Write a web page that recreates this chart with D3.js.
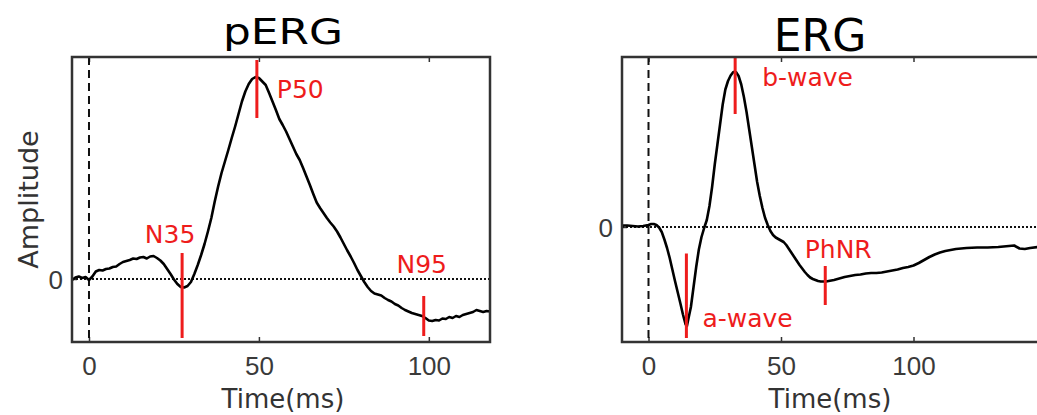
<!DOCTYPE html>
<html>
<head>
<meta charset="utf-8">
<script src="https://cdn.jsdelivr.net/npm/d3@7"></script>
<style>
  body { margin: 0; background: #fff; }
  svg { display: block; overflow: hidden; font-family: "DejaVu Sans", sans-serif; }
  .tick text { fill: #3a3a3a; font-size: 26px; }
  .tick line { stroke: #333; stroke-width: 1.5; }
</style>
</head>
<body>
<div id="chart"></div>
<script>
// pERG trace: [time ms, amplitude]
let pergTrace = [
  [-5, -0.02], [-4, 0.03], [-3, 0.05], [-2, 0.02], [-1, 0.04], [0, -0.02], [1, 0.05], [2, 0.15],
  [3, 0.18], [4, 0.17], [5, 0.2], [6, 0.21], [7, 0.24], [8, 0.25], [9, 0.3], [10, 0.34],
  [11, 0.36], [12, 0.38], [13, 0.41], [14, 0.40], [15, 0.43], [16, 0.44], [17, 0.41], [18, 0.45],
  [19, 0.46], [20, 0.42], [21, 0.37], [22, 0.30], [23, 0.2], [24, 0.1], [25, -0.01], [26, -0.1],
  [27, -0.16], [28, -0.17], [29, -0.14], [30, -0.06], [31, 0.1], [32, 0.28], [33, 0.48], [34, 0.7],
  [35, 0.95], [36, 1.22], [37, 1.55], [38, 1.85], [39, 2.12], [40, 2.35], [41, 2.58], [42, 2.82],
  [43, 3.05], [44, 3.3], [45, 3.55], [46, 3.75], [47, 3.9], [48, 4.0], [49, 4.04], [50, 4.02],
  [51, 3.95], [52, 3.88], [53, 3.72], [54, 3.55], [55, 3.38], [56, 3.2], [57, 3.08], [58, 2.95],
  [59, 2.8], [60, 2.65], [61, 2.5], [62, 2.38], [63, 2.22], [64, 2.05], [65, 1.88], [66, 1.7],
  [67, 1.53], [68, 1.42], [69, 1.32], [70, 1.22], [71, 1.13], [72, 1.05], [73, 0.95], [74, 0.83],
  [75, 0.7], [76, 0.57], [77, 0.45], [78, 0.32], [79, 0.18], [80, 0.06], [81, -0.06], [82, -0.16],
  [83, -0.24], [84, -0.29], [85, -0.31], [86, -0.33], [87, -0.38], [88, -0.42], [89, -0.45], [90, -0.5],
  [91, -0.53], [92, -0.58], [93, -0.62], [94, -0.65], [95, -0.68], [96, -0.7], [97, -0.72], [98, -0.74],
  [99, -0.78], [100, -0.83], [101, -0.84], [102, -0.82], [103, -0.83], [104, -0.79], [105, -0.8], [106, -0.76],
  [107, -0.78], [108, -0.74], [109, -0.76], [110, -0.72], [111, -0.7], [112, -0.68], [113, -0.66], [114, -0.62],
  [115, -0.64], [116, -0.66], [117, -0.64], [118, -0.65]
];

// ERG trace: [time ms, amplitude]
let ergTrace = [
  [-10, 0.03], [-8, 0.03], [-6, 0.02], [-4, 0.01], [-2, 0.02], [0, 0.04], [1, 0.06], [2, 0.06],
  [3, 0.04], [4, -0.01], [5, -0.1], [6, -0.25], [7, -0.42], [8, -0.62], [9, -0.85], [10, -1.08],
  [11, -1.3], [12, -1.52], [13, -1.75], [14, -1.95], [14.5, -1.98], [15, -1.85], [16, -1.6], [17, -1.2],
  [18, -0.8], [19, -0.45], [20, -0.2], [21, -0.02], [22, 0.14], [23, 0.42], [24, 0.8], [25, 1.25],
  [26, 1.65], [27, 2.05], [28, 2.45], [29, 2.75], [30, 2.92], [31, 3.03], [32, 3.1], [33, 3.1],
  [34, 3.02], [35, 2.85], [36, 2.6], [37, 2.3], [38, 1.95], [39, 1.6], [40, 1.25], [41, 0.9],
  [42, 0.62], [43, 0.38], [44, 0.18], [45, 0.04], [46, -0.08], [47, -0.16], [48, -0.21], [49, -0.24],
  [50, -0.27], [51, -0.3], [52, -0.36], [53, -0.44], [54, -0.52], [55, -0.6], [56, -0.68], [57, -0.76],
  [58, -0.83], [59, -0.9], [60, -0.96], [61, -1.01], [62, -1.04], [63, -1.06], [64, -1.08], [65, -1.09],
  [66, -1.09], [67, -1.09], [68, -1.08], [70, -1.06], [72, -1.03], [74, -1.0], [76, -0.98], [78, -0.96],
  [80, -0.95], [82, -0.93], [84, -0.92], [86, -0.92], [88, -0.91], [90, -0.89], [92, -0.87], [94, -0.85],
  [96, -0.82], [98, -0.8], [100, -0.77], [102, -0.72], [104, -0.66], [106, -0.6], [108, -0.55], [110, -0.51],
  [112, -0.48], [114, -0.46], [116, -0.44], [118, -0.43], [120, -0.42], [124, -0.41], [128, -0.41], [132, -0.4],
  [136, -0.38], [138, -0.37], [140, -0.43], [142, -0.44], [144, -0.42], [147, -0.4], [150, -0.4]
];

// peak markers: label, time, marker from / to amplitude
let pergMarkers = [
  { label: "N35", t: 27.4, from: -1.18, to: 0.52 },
  { label: "P50", t: 49.4, from: 3.22, to: 4.38 },
  { label: "N95", t: 98.5, from: -1.14, to: -0.34 }
];
let ergMarkers = [
  { label: "a-wave", t: 14.3, from: -2.22, to: -0.53 },
  { label: "b-wave", t: 32.7, from: 2.26, to: 3.4 },
  { label: "PhNR", t: 66.7, from: -1.56, to: -0.78 }
];

let xTicks = [0, 50, 100];
let yTicks = [0];

// label placement relative to marker line (px)
let labelPlace = {
  "N35":    { anchor: "middle", dx: -12, end: "top", dy: -10 },
  "P50":    { anchor: "start",  dx: 20,  end: "top", dy: 38 },
  "N95":    { anchor: "middle", dx: -2,  end: "top", dy: -23 },
  "a-wave": { anchor: "start",  dx: 16,  end: "bottom", dy: -11 },
  "b-wave": { anchor: "start",  dx: 27,  end: "top", dy: 29 },
  "PhNR":   { anchor: "middle", dx: 13,  end: "top", dy: -8 }
};

let width = 1037, height = 415;
let svg = d3.select("#chart").append("svg")
  .attr("width", width)
  .attr("height", height);

function drawPanel(opt) {
  let x = d3.scaleLinear().domain(opt.xDomain).range([opt.left, opt.right]);
  let y = d3.scaleLinear().domain(opt.yDomain).range([342, 57]);
  let g = svg.append("g");

  let clipId = "clip-" + opt.name;
  svg.append("clipPath").attr("id", clipId)
    .append("rect")
    .attr("x", opt.left).attr("y", 57)
    .attr("width", opt.right - opt.left).attr("height", 342 - 57);

  // axes with inward ticks
  g.append("g")
    .attr("transform", "translate(0,342)")
    .call(d3.axisBottom(x).tickValues(xTicks).tickSizeInner(-5).tickSizeOuter(0).tickPadding(15))
    .call(a => a.select(".domain").remove());
  g.append("g")
    .attr("transform", "translate(0,57)")
    .call(d3.axisTop(x).tickValues(xTicks).tickSizeInner(-5).tickSizeOuter(0).tickFormat(""))
    .call(a => a.select(".domain").remove());
  g.append("g")
    .attr("transform", "translate(" + opt.left + ",0)")
    .call(d3.axisLeft(y).tickValues(yTicks).tickFormat(d3.format("d")).tickSizeInner(-5).tickSizeOuter(0).tickPadding(9))
    .call(a => a.select(".domain").remove())
    .selectAll("text").attr("dy", "0.38em");

  let plot = g.append("g").attr("clip-path", "url(#" + clipId + ")");

  // zero line (dotted) and stimulus onset (dashed)
  plot.append("line")
    .attr("x1", opt.left).attr("x2", opt.right)
    .attr("y1", y(0)).attr("y2", y(0))
    .attr("stroke", "#111").attr("stroke-width", 2)
    .attr("stroke-dasharray", "2,2");
  plot.append("line")
    .attr("x1", x(0)).attr("x2", x(0))
    .attr("y1", 57).attr("y2", 342)
    .attr("stroke", "#111").attr("stroke-width", 2)
    .attr("stroke-dasharray", "8,5");

  let line = d3.line().x(d => x(d[0])).y(d => y(d[1]));
  plot.append("path")
    .datum(opt.trace)
    .attr("d", line)
    .attr("fill", "none")
    .attr("stroke", "#000")
    .attr("stroke-width", 2.6)
    .attr("stroke-linejoin", "round");

  // red markers + labels
  let m = g.selectAll(".marker").data(opt.markers).enter().append("g");
  m.append("line")
    .attr("x1", d => x(d.t)).attr("x2", d => x(d.t))
    .attr("y1", d => y(d.from)).attr("y2", d => y(d.to))
    .attr("stroke", "#ee1c1c").attr("stroke-width", 3);
  m.append("text")
    .attr("x", d => x(d.t) + labelPlace[d.label].dx)
    .attr("y", d => (labelPlace[d.label].end === "top" ? y(d.to) : y(d.from)) + labelPlace[d.label].dy)
    .attr("text-anchor", d => labelPlace[d.label].anchor)
    .attr("fill", "#ee1c1c")
    .attr("font-size", 25)
    .text(d => d.label);

  // box
  g.append("rect")
    .attr("x", opt.left).attr("y", 57)
    .attr("width", opt.right - opt.left).attr("height", 342 - 57)
    .attr("fill", "none")
    .attr("stroke", "#333").attr("stroke-width", 2.5);

  // x label
  g.append("text")
    .attr("x", opt.xLabelX).attr("y", 408)
    .attr("text-anchor", "middle")
    .attr("fill", "#333")
    .attr("font-size", 26)
    .text("Time(ms)");

  return { x: x, y: y };
}

drawPanel({
  name: "perg", trace: pergTrace, markers: pergMarkers,
  xDomain: [-5, 118], yDomain: [-1.26, 4.44],
  left: 72, right: 490, xLabelX: 283
});
drawPanel({
  name: "erg", trace: ergTrace, markers: ergMarkers,
  xDomain: [-10, 150], yDomain: [-2.3, 3.4],
  left: 622, right: 1046, xLabelX: 830
});

// titles
svg.append("text")
  .attr("x", 283).attr("y", 44)
  .attr("text-anchor", "middle")
  .attr("font-size", 35)
  .attr("textLength", 120)
  .attr("lengthAdjust", "spacingAndGlyphs")
  .attr("fill", "#000")
  .text("pERG");
svg.append("text")
  .attr("x", 820).attr("y", 51)
  .attr("text-anchor", "middle")
  .attr("font-size", 44)
  .attr("fill", "#000")
  .text("ERG");

// y label
svg.append("text")
  .attr("transform", "translate(38,199.5) rotate(-90)")
  .attr("text-anchor", "middle")
  .attr("fill", "#333")
  .attr("font-size", 27)
  .text("Amplitude");
</script>
</body>
</html>
